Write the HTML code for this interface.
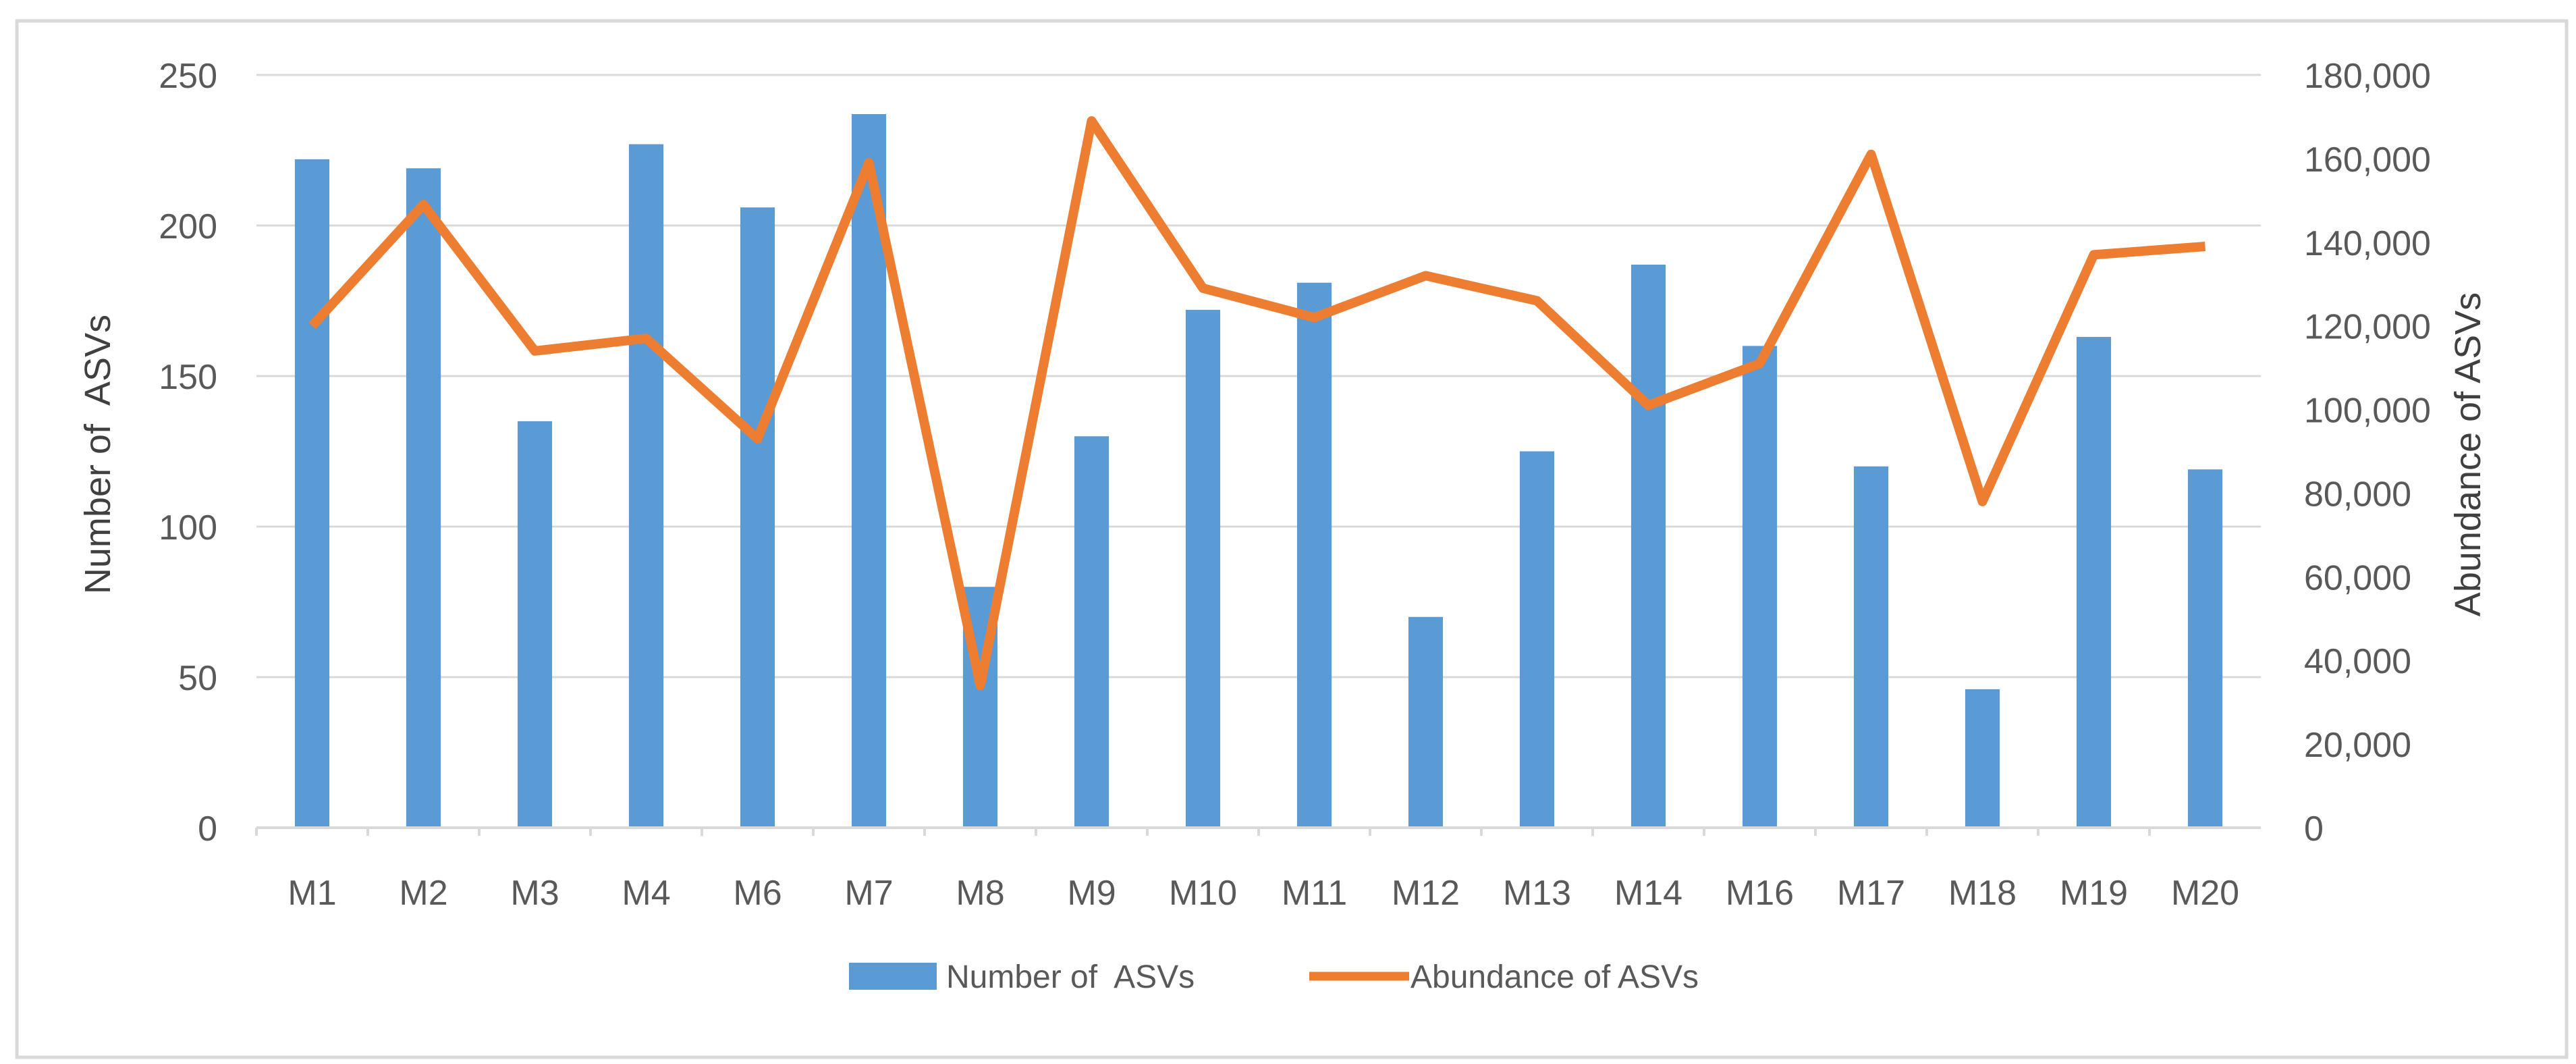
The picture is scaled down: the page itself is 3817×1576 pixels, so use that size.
<!DOCTYPE html>
<html><head><meta charset="utf-8"><style>
html,body{margin:0;padding:0;background:#fff;}
svg{display:block;}
text{font-family:"Liberation Sans",sans-serif;fill:#595959;}
</style></head><body>
<svg id="chart" width="3817" height="1576" viewBox="0 0 3817 1576" xmlns="http://www.w3.org/2000/svg">
<rect x="25" y="31" width="3778" height="1535" fill="#fff" stroke="#d9d9d9" stroke-width="5"/>
<g id="grid"></g><g id="bars"></g><g id="line"></g><g id="axes"></g>
<text x="163" y="673" transform="rotate(-90 163 673)" text-anchor="middle" font-size="54" style="fill:#404040">Number of&#160; ASVs</text>
<text x="3675" y="673" transform="rotate(-90 3675 673)" text-anchor="middle" font-size="54" style="fill:#404040">Abundance of ASVs</text>
<g>
<rect x="1258" y="1426" width="130" height="40" fill="#5b9bd5"/>
<text x="1402" y="1463" font-size="48">Number of&#160; ASVs</text>
<line x1="1940" y1="1446" x2="2088" y2="1446" stroke="#ed7d31" stroke-width="13"/>
<text x="2090" y="1463" font-size="48">Abundance of ASVs</text>
</g>
</svg>
<script>
const categories=["M1","M2","M3","M4","M6","M7","M8","M9","M10","M11","M12","M13","M14","M16","M17","M18","M19","M20"];
const asvCounts=[222,219,135,227,206,237,80,130,172,181,70,125,187,160,120,46,163,119];
const abundance=[120000,149000,114000,117000,93000,159000,34000,169000,129000,122000,132000,126000,101000,111000,161000,78000,137000,139000];
const leftTicks=[0,50,100,150,200,250];
const rightTicks=[0,20000,40000,60000,80000,100000,120000,140000,160000,180000];
const NS="http://www.w3.org/2000/svg";
const L=380,R=3350,T=111,B=1226;
const band=(R-L)/categories.length;
const xc=i=>L+band*(i+0.5);
const yL=v=>B-(v/250)*(B-T);
const yR=v=>B-(v/180000)*(B-T);
function mk(tag,attrs,parent){const e=document.createElementNS(NS,tag);for(const k in attrs)e.setAttribute(k,attrs[k]);document.getElementById(parent).appendChild(e);return e;}
leftTicks.forEach(v=>{
 if(v>0){const g=mk('line',{x1:L,x2:R,y1:yL(v),y2:yL(v),stroke:'#d9d9d9','stroke-width':3},'grid');
 
 }
 const t=mk('text',{x:322,y:yL(v)+19,'text-anchor':'end','font-size':52},'axes');t.textContent=v;
 
 
});
rightTicks.forEach(v=>{
 const t=mk('text',{x:3414,y:yR(v)+19,'font-size':52},'axes');t.textContent=v.toLocaleString('en-US');
 
 
});
const bw=band*0.31;
asvCounts.forEach((v,i)=>{
 const r=mk('rect',{x:xc(i)-bw/2,y:yL(v),width:bw,height:B-yL(v),fill:'#5b9bd5'},'bars');
 
 
});
const ax=mk('line',{x1:L,x2:R,y1:B,y2:B,stroke:'#d9d9d9','stroke-width':4},'axes');


categories.forEach((c,i)=>{
 const tk=mk('line',{x1:L+band*i,x2:L+band*i,y1:B,y2:B+12,stroke:'#d9d9d9','stroke-width':4},'axes');
 
 
 const t=mk('text',{x:xc(i),y:1340,'text-anchor':'middle','font-size':52},'axes');t.textContent=c;
 
 
});
const pts=abundance.map((v,i)=>xc(i)+','+yR(v)).join(' ');
const pl=mk('polyline',{points:pts,fill:'none',stroke:'#ed7d31','stroke-width':14,'stroke-linejoin':'round'},'line');


</script>
</body></html>
